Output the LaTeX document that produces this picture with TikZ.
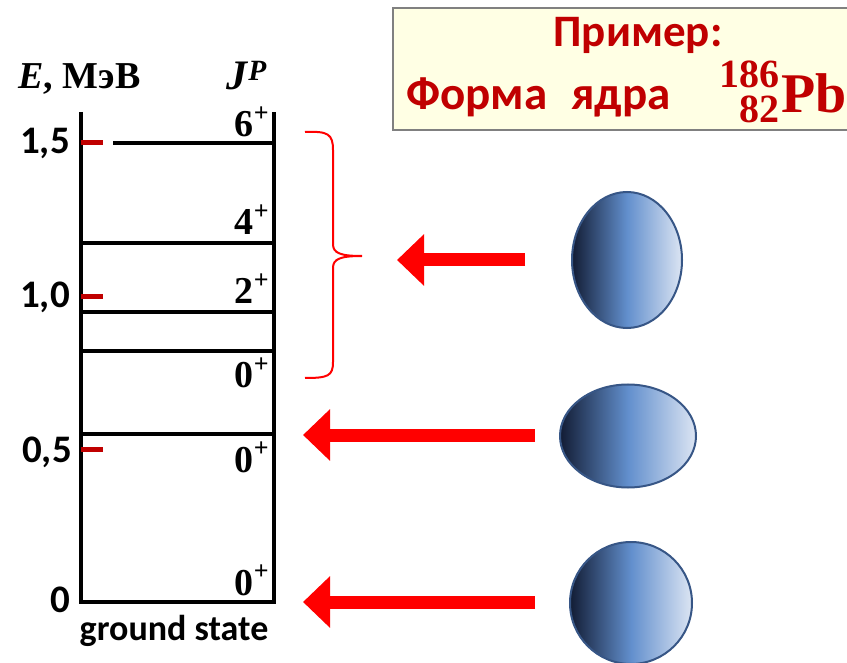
\documentclass[tikz,border=0pt]{standalone}
\usepackage{fontspec}
\setmainfont{Carlito}
\newfontfamily\serifbf{Liberation Serif}
\usetikzlibrary{arrows.meta,shapes.geometric}

\definecolor{darkred}{RGB}{192,0,0}
\definecolor{cream}{RGB}{255,255,228}
\definecolor{nucdark}{RGB}{18,28,52}
\definecolor{nucmid}{RGB}{98,143,205}
\definecolor{nuclight}{RGB}{220,229,243}
\definecolor{nucedge}{RGB}{55,86,134}

% spin-parity label with a big raised plus
\newcommand{\jp}[1]{#1\raisebox{0.42em}{\fontsize{26}{26}\selectfont+}}

\begin{document}
\begin{tikzpicture}[x=1pt,y=-1pt,
	level/.style={line width=3.5pt},
	tick/.style={darkred,line width=5pt},
	fatarrow/.style={red,line width=13pt,-{Triangle[length=27pt,width=50pt]}},
	spin/.style={anchor=base east,inner sep=0pt,font=\serifbf\bfseries\fontsize{38}{38}\selectfont},
	energy/.style={anchor=base east,inner sep=0pt,font=\bfseries\fontsize{39}{39}\selectfont},
	nucleus/.style={ellipse,draw=nucedge,line width=2pt,inner sep=0pt,
		left color=nucdark,right color=nuclight,middle color=nucmid}]
	
	\useasboundingbox (0,0) rectangle (847,663);
	\clip (0,0) rectangle (847,663);
	
	% title box
	\draw[gray,line width=1.5pt,fill=cream] (393,8) rectangle (860,130);
	\node[anchor=base,inner sep=0pt,text=darkred,font=\bfseries\fontsize{45}{45}\selectfont] (title1) at (638,47) {Пример:};
	\node[anchor=base west,inner sep=0pt,text=darkred,font=\bfseries\fontsize{47}{47}\selectfont] (title2) at (406,110) {Форма\hspace{24pt}ядра};
	\node[anchor=base east,inner sep=0pt,text=darkred,font=\serifbf\bfseries\fontsize{40}{31}\selectfont] (nuclide) at (780,123)
		{\begin{tabular}[b]{@{}r@{}}186\\82\end{tabular}};
	\node[anchor=base west,inner sep=0pt,text=darkred,font=\serifbf\bfseries\fontsize{56}{56}\selectfont] (elem) at (781,113) {Pb};
	
	% level scheme
	\coordinate (tl) at (81,112);
	\coordinate (bl) at (81,602);
	\coordinate (br) at (274,602);
	\coordinate (tr) at (274,112);
	\draw[line width=4pt] (tl) -- (bl) -- (br) -- (tr);
	
	\draw[level] (113,143) -- (274,143);
	\foreach \y in {243,312,351,434}
		\draw[level] (81,\y) -- (274,\y);
	
	\foreach \y in {143,297,449}
		\draw[tick] (81,\y) -- (103,\y);
	
	\node[energy] (e15) at (70,154) {1,5};
	\node[energy] (e10) at (70,308) {1,0};
	\node[energy] (e05) at (72,462) {0,5};
	\node[energy] (e0) at (70,612) {0};
	
	\node[spin] (s6) at (269,137) {\jp{6}};
	\node[spin] (s4) at (269,235) {\jp{4}};
	\node[spin] (s2) at (269,304) {\jp{2}};
	\node[spin] (s0c) at (269,388) {\jp{0}};
	\node[spin] (s0b) at (269,472) {\jp{0}};
	\node[spin] (s0a) at (269,595) {\jp{0}};
	
	\node[anchor=base west,inner sep=0pt,font=\serifbf\bfseries\fontsize{38}{38}\selectfont] (eaxis) at (18,89) {\textit{E}, МэВ};
	\node[anchor=base west,inner sep=0pt,font=\serifbf\bfseries\fontsize{42}{42}\selectfont] (jaxis) at (226,90) {\textit{J}\textsuperscript{\textit{P}}};
	\node[anchor=base,inner sep=0pt,font=\bfseries\fontsize{36}{36}\selectfont] (gs) at (174,640) {ground state};
	
	% brace over the upper band
	\draw[red,line width=2pt] (305,132) .. controls (328,131) and (333,134) .. (333,150)
		-- (333,244) .. controls (333,253) and (340,256) .. (362,256)
		.. controls (340,256) and (333,259) .. (333,268)
		-- (333,362) .. controls (333,376) and (328,378) .. (305,378);
	
	% nuclear shapes
	\node[nucleus,minimum width=110pt,minimum height=136pt] (prolate) at (627,260) {};
	\node[nucleus,minimum width=136pt,minimum height=103pt] (oblate) at (628,436) {};
	\node[nucleus,minimum width=122pt,minimum height=122pt] (sphere) at (631,603) {};
	
	\coordinate (a1) at (525,260);
	\coordinate (h1) at (397,260);
	\coordinate (a2) at (535,435);
	\coordinate (h2) at (303,435);
	\coordinate (a3) at (535,602);
	\coordinate (h3) at (303,602);
	\draw[fatarrow] (a1) -- (h1);
	\draw[fatarrow] (a2) -- (h2);
	\draw[fatarrow] (a3) -- (h3);
	
\end{tikzpicture}
\end{document}
